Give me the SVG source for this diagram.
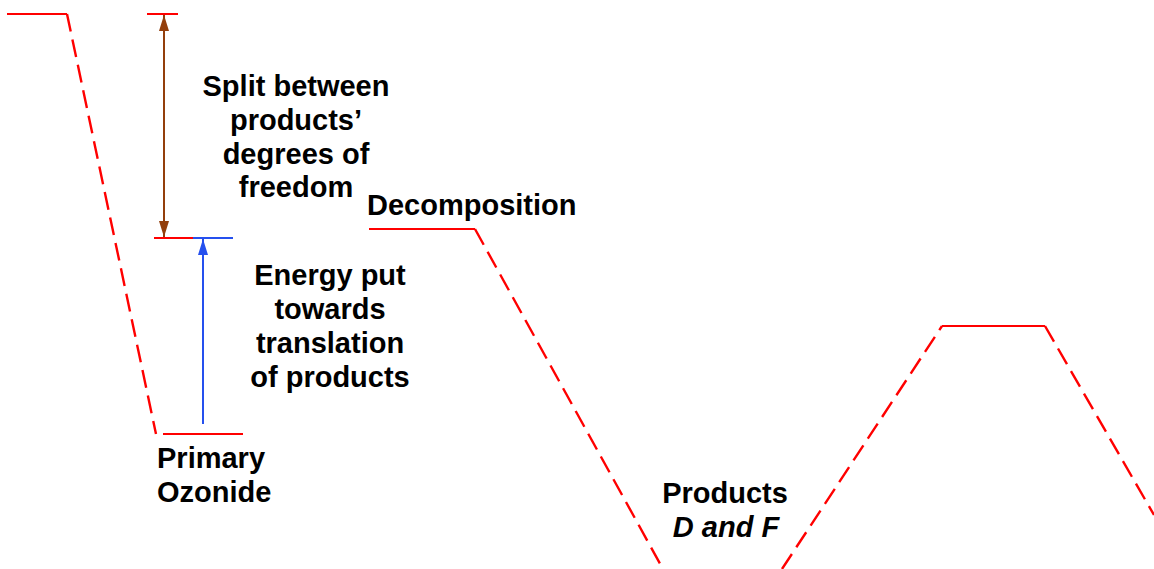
<svg xmlns="http://www.w3.org/2000/svg" width="1154" height="569" viewBox="0 0 1154 569">
<style>
.lvl{stroke:#ff0000;stroke-width:2;fill:none}
.dash{stroke:#ff0000;stroke-width:2.4;fill:none;stroke-dasharray:18 8}
.t{font-family:"Liberation Sans",Arial,sans-serif;font-weight:bold;font-size:29px;fill:#000}
</style>
<defs>
<marker id="ab" viewBox="0 0 16 10" refX="16" refY="5" markerWidth="16" markerHeight="10" markerUnits="userSpaceOnUse" orient="auto-start-reverse"><path d="M0,0 L16,5 L0,10 z" fill="#933f0c"/></marker>
<marker id="ab2" viewBox="0 0 16 10" refX="16" refY="5" markerWidth="16" markerHeight="10" markerUnits="userSpaceOnUse" orient="auto"><path d="M0,0 L16,5 L0,10 z" fill="#2550ee"/></marker>
</defs>
<g id="connectors">
<line class="dash" x1="67" y1="14" x2="156" y2="434"/>
<line class="dash" x1="475" y1="229" x2="663" y2="569"/>
<line class="dash" x1="782" y1="569" x2="942" y2="326"/>
<line class="dash" x1="1045" y1="326" x2="1154" y2="515"/>
<line x1="164" y1="15" x2="164" y2="237" stroke="#933f0c" stroke-width="2" marker-start="url(#ab)" marker-end="url(#ab)"/>
<line x1="203" y1="424" x2="203" y2="239" stroke="#2550ee" stroke-width="2" marker-end="url(#ab2)"/>
</g>
<g id="start"><line class="lvl" x1="7" y1="14" x2="67" y2="14"/></g>
<g id="split-top"><line class="lvl" x1="147" y1="14" x2="178" y2="14"/></g>
<g id="split-bottom"><line class="lvl" x1="154" y1="238" x2="193" y2="238"/><line x1="193" y1="238" x2="233" y2="238" stroke="#2550ee" stroke-width="2"/></g>
<g id="split-label"><text class="t" text-anchor="middle"><tspan x="296" y="96">Split between</tspan><tspan x="296" y="130">products’</tspan><tspan x="296" y="164">degrees of</tspan><tspan x="296" y="197">freedom</tspan></text></g>
<g id="energy-label"><text class="t" text-anchor="middle"><tspan x="330" y="285">Energy put</tspan><tspan x="330" y="319">towards</tspan><tspan x="330" y="353">translation</tspan><tspan x="330" y="387">of products</tspan></text></g>
<g id="primary-ozonide"><line class="lvl" x1="163" y1="434" x2="243" y2="434"/><text class="t"><tspan x="157" y="468">Primary</tspan><tspan x="157" y="502">Ozonide</tspan></text></g>
<g id="decomposition"><line class="lvl" x1="369" y1="229" x2="475" y2="229"/><text class="t" x="367" y="215">Decomposition</text></g>
<g id="products"><text class="t" text-anchor="middle"><tspan x="725" y="503">Products</tspan><tspan x="726" y="537" font-style="italic">D and F</tspan></text></g>
<g id="right-level"><line class="lvl" x1="942" y1="326" x2="1045" y2="326"/></g>
</svg>
